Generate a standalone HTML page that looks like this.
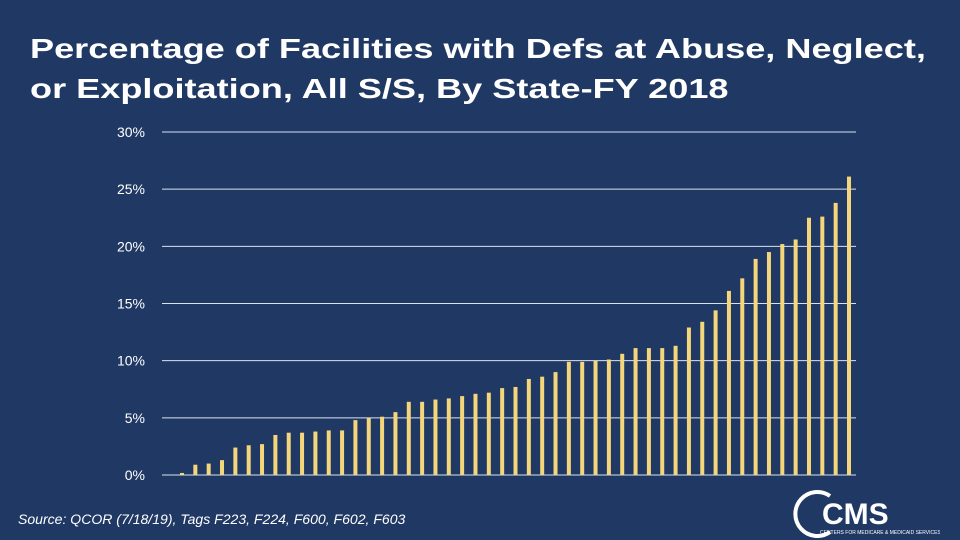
<!DOCTYPE html>
<html><head><meta charset="utf-8"><style>
body{margin:0;width:960px;height:540px;background:#203864;overflow:hidden;font-family:"Liberation Sans",sans-serif;}
#title{position:absolute;left:30px;top:29px;color:#fff;font-weight:bold;font-size:28px;line-height:40px;transform:scaleX(1.29);transform-origin:0 0;white-space:nowrap;}
#src{position:absolute;left:18px;top:512px;color:#fff;font-style:italic;font-size:13.5px;transform:scaleX(1.04);transform-origin:0 0;white-space:nowrap;}
</style></head><body>
<div id="title">Percentage of Facilities with Defs at Abuse, Neglect,<br>or Exploitation, All S/S, By State-FY 2018</div>
<svg id="chart" width="960" height="540" style="position:absolute;left:0;top:0"></svg>
<div id="src">Source: QCOR (7/18/19), Tags F223, F224, F600, F602, F603</div>
<svg width="150" height="50" style="position:absolute;left:790px;top:488px">
<path d="M40 8 A22 22 0 1 0 40 44" fill="none" stroke="#fff" stroke-width="4"/>
<text x="32" y="36" fill="#fff" font-family="Liberation Sans" font-weight="bold" font-size="30">CMS</text>
<text x="30" y="46" fill="#fff" font-family="Liberation Sans" font-size="5">CENTERS FOR MEDICARE &amp; MEDICAID SERVICES</text>
</svg>
<script>
const values=[0.18,0.9,1.0,1.3,2.4,2.6,2.7,3.5,3.7,3.7,3.8,3.9,3.9,4.8,5.0,5.1,5.5,6.4,6.4,6.6,6.7,6.9,7.1,7.2,7.6,7.7,8.4,8.6,9.0,9.9,9.9,10.0,10.1,10.6,11.1,11.1,11.1,11.3,12.9,13.4,14.4,16.1,17.2,18.9,19.5,20.2,20.6,22.5,22.6,23.8,26.1];
const ticks=[0,5,10,15,20,25,30];
const tickLabels=["0%","5%","10%","15%","20%","25%","30%"];
const svg=document.getElementById('chart');
const NS='http://www.w3.org/2000/svg';
const y0=475,y30=132,xL=162,xR=856;
function y(v){return y0-(v/30)*(y0-y30);}
function x(i){return 182+i*(849-182)/(values.length-1);}
ticks.forEach((t,k)=>{
 const l=document.createElementNS(NS,'line');
 l.setAttribute('x1',xL);l.setAttribute('x2',xR);l.setAttribute('y1',y(t));l.setAttribute('y2',y(t));
 l.setAttribute('stroke','#d9e2f0');l.setAttribute('stroke-width','1');
 
 
 svg.appendChild(l);
 const tx=document.createElementNS(NS,'text');
 tx.setAttribute('x',145);tx.setAttribute('y',y(t)+5);tx.setAttribute('text-anchor','end');
 tx.setAttribute('fill','#fff');tx.setAttribute('font-size','14');tx.setAttribute('font-family','Liberation Sans, sans-serif');
 tx.textContent=tickLabels[k];
 
 
 svg.appendChild(tx);
});
values.forEach((v,i)=>{
 const r=document.createElementNS(NS,'rect');
 r.setAttribute('x',x(i)-2);r.setAttribute('width',4);
 r.setAttribute('y',y(v));r.setAttribute('height',y0-y(v));
 r.setAttribute('fill','#f5d67a');
 
 
 svg.appendChild(r);
});
</script>
</body></html>
